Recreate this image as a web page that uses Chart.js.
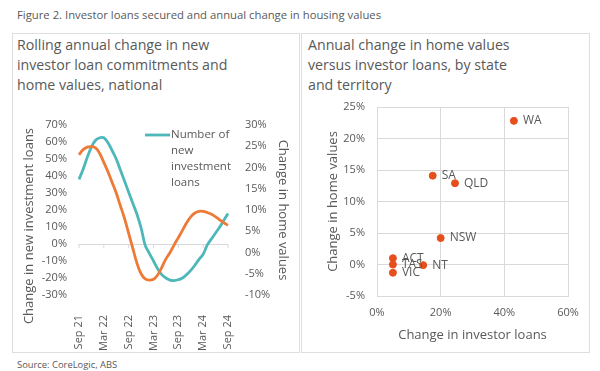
<!DOCTYPE html>
<html>
<head>
<meta charset="utf-8">
<script src="https://cdn.jsdelivr.net/npm/chart.js@4.4.1/dist/chart.umd.min.js"></script>
<style>
	body { margin: 0; background: #fff; font-family: "Open Sans", sans-serif; color: #595959; }
	#wrap { position: relative; width: 600px; height: 371px; overflow: hidden; }
	.panel { position: absolute; top: 33px; height: 320px; border: 1px solid #dedede; box-sizing: border-box; }
	.ptitle { position: absolute; top: 35px; font-size: 14.2px; line-height: 20px; color: #595959; }
	#fig { position: absolute; left: 17px; top: 7px; font-size: 11.3px; }
	#src { position: absolute; left: 17px; top: 358px; font-size: 9.4px; }
	canvas { position: absolute; }
</style>
</head>
<body>
<div id="wrap">
	<div id="fig">Figure 2. Investor loans secured and annual change in housing values</div>
	<div class="panel" style="left:12px;width:288px;"></div>
	<div class="panel" style="left:301px;width:289px;"></div>
	<div class="ptitle" style="left:17px;">Rolling annual change in new<br>investor loan commitments and<br>home values, national</div>
	<div class="ptitle" style="left:308px;">Annual change in home values<br>versus investor loans, by state<br>and territory</div>
	<canvas id="line-1" width="284" height="256" style="left:13px;top:95px;"></canvas>
	<canvas id="scatter-1" width="286" height="256" style="left:303px;top:95px;"></canvas>
	<div id="src">Source: CoreLogic, ABS</div>
</div>
<script>
const monthLabels = ["Sep 21", "Oct 21", "Nov 21", "Dec 21", "Jan 22", "Feb 22", "Mar 22", "Apr 22", "May 22", "Jun 22", "Jul 22", "Aug 22",
	"Sep 22", "Oct 22", "Nov 22", "Dec 22", "Jan 23", "Feb 23", "Mar 23", "Apr 23", "May 23", "Jun 23", "Jul 23", "Aug 23",
	"Sep 23", "Oct 23", "Nov 23", "Dec 23", "Jan 24", "Feb 24", "Mar 24", "Apr 24", "May 24", "Jun 24", "Jul 24", "Aug 24", "Sep 24"];

// left axis: number of new investment loans, % change
const investLoans = [38, 44, 51, 57, 61, 62.5, 62.5, 59.5, 55, 50, 43.5, 37,
	30.5, 24, 17.5, 9.5, -0.8, -5.5, -10, -14.5, -18, -20, -21.2, -21.5,
	-21, -20, -18, -15.5, -12.5, -9, -6, -0.5, 3, 6.5, 10, 14, 18];

// right axis: home values, % change
const homeValues = [23, 24.2, 24.8, 24.9, 24.6, 23.3, 21.2, 19, 16.5, 14, 11, 8,
	4.5, 1, -2.5, -5, -6.2, -6.5, -6.3, -5.3, -3.5, -1.5, 0, 1.8,
	3.5, 5.2, 7, 8.4, 9.3, 9.7, 9.7, 9.4, 9, 8.4, 7.7, 7, 6.4];

const states = ["WA", "SA", "QLD", "NSW", "ACT", "TAS", "NT", "VIC"];
const investorLoanChange = [43, 17.5, 24.5, 20, 5, 5, 14.5, 5];
const homeValueChange = [22.8, 14.1, 12.9, 4.2, 1, 0, -0.1, -1.3];

const TEAL = "#4db7b9";
const ORANGE = "#ee7a37";
const RED_ORANGE = "#e64f1c";
const GREY = "#595959";
const GRID = "#d9d9d9";
const FONT = "'Open Sans', sans-serif";

Chart.defaults.font.family = FONT;
Chart.defaults.color = GREY;

function fixWidth(w) {
	return (scale) => {
		scale.width = w;
		// tick padding should not push the plot area down
		scale.paddingTop = 4;
		scale.paddingBottom = 4;
	};
}
function fixHeight(h) {
	return (scale) => { scale.height = h; };
}

// legend with wrapped text, only the loans series is listed
// also the left axis title, which sits a bit lower than the plot centre
const wrappedLegend = {
	id: "wrappedLegend",
	afterDraw(chart) {
		const ctx = chart.ctx;
		const x = 132;
		const y = 40;
		ctx.save();
		ctx.strokeStyle = TEAL;
		ctx.lineWidth = 2.8;
		ctx.beginPath();
		ctx.moveTo(x, y);
		ctx.lineTo(x + 25, y);
		ctx.stroke();
		ctx.fillStyle = GREY;
		ctx.font = "11.5px " + FONT;
		ctx.textBaseline = "middle";
		["Number of", "new", "investment", "loans"].forEach((t, i) => {
			ctx.fillText(t, x + 26, y + i * 16);
		});

		ctx.translate(16, 131);
		ctx.rotate(-Math.PI / 2);
		ctx.font = "13px " + FONT;
		ctx.textAlign = "center";
		ctx.fillText("Change in new investment loans", 0, 0);
		ctx.restore();
	},
};

// small tick marks on the zero line
const zeroTicks = {
	id: "zeroTicks",
	beforeDatasetsDraw(chart) {
		const ctx = chart.ctx;
		const y0 = chart.scales.y.getPixelForValue(0);
		ctx.save();
		ctx.strokeStyle = GRID;
		ctx.lineWidth = 1;
		for (let i = 0; i < monthLabels.length; i += 6) {
			const x = chart.scales.x.getPixelForValue(i);
			ctx.beginPath();
			ctx.moveTo(x, y0);
			ctx.lineTo(x, y0 + 4);
			ctx.stroke();
		}
		ctx.restore();
	},
};

const pointLabels = {
	id: "pointLabels",
	afterDatasetsDraw(chart) {
		const ctx = chart.ctx;
		const meta = chart.getDatasetMeta(0);
		ctx.save();
		ctx.fillStyle = GREY;
		ctx.font = "12px " + FONT;
		ctx.textBaseline = "middle";
		meta.data.forEach((pt, i) => {
			ctx.fillText(states[i], pt.x + 9, pt.y);
		});
		ctx.restore();
	},
};

const config_l1 = {
	type: "line",
	data: {
		labels: monthLabels,
		datasets: [
			{
				label: "Number of new investment loans",
				data: investLoans,
				borderColor: TEAL,
				borderWidth: 2.8,
				pointRadius: 0,
				tension: 0.4,
				yAxisID: "y",
				order: 1,
			},
			{
				label: "Change in home values",
				data: homeValues,
				borderColor: ORANGE,
				borderWidth: 2.8,
				pointRadius: 0,
				tension: 0.4,
				yAxisID: "y1",
				order: 0,
			},
		],
	},
	options: {
		responsive: false,
		animation: false,
		layout: { padding: { top: 30, left: 0, right: 0, bottom: 0 } },
		plugins: { legend: { display: false }, tooltip: { enabled: false } },
		scales: {
			x: {
				grid: { display: false },
				border: { display: false },
				afterFit: fixHeight(56),
				ticks: {
					autoSkip: false,
					minRotation: 90,
					maxRotation: 90,
					padding: 12,
					font: { size: 11 },
					callback: (v, i) => (i % 6 === 0 ? monthLabels[i] : ""),
				},
			},
			y: {
				position: "left",
				min: -30,
				max: 70,
				afterFit: fixWidth(66),
				border: { display: false },
				grid: { drawTicks: false, color: (c) => (c.tick && c.tick.value === 0 ? GRID : "rgba(0,0,0,0)") },
				ticks: { stepSize: 10, autoSkip: false, padding: 12, font: { size: 11 }, callback: (v) => v + "%" },
			},
			y1: {
				position: "right",
				min: -10,
				max: 30,
				afterFit: fixWidth(69),
				border: { display: false },
				grid: { display: false, drawTicks: false },
				ticks: { stepSize: 5, autoSkip: false, padding: 17, font: { size: 11 }, callback: (v) => v + "%" },
				title: { display: true, text: "Change in home values", font: { size: 13 }, padding: { top: 6, bottom: 0 } },
			},
		},
	},
	plugins: [zeroTicks, wrappedLegend],
};

const config_s1 = {
	type: "scatter",
	data: {
		datasets: [
			{
				label: "States",
				data: investorLoanChange.map((v, i) => ({ x: v, y: homeValueChange[i] })),
				backgroundColor: RED_ORANGE,
				borderColor: RED_ORANGE,
				pointRadius: 3.5,
			},
		],
	},
	options: {
		responsive: false,
		animation: false,
		layout: { padding: { top: 12, left: 0, right: 21, bottom: 0 } },
		plugins: { legend: { display: false }, tooltip: { enabled: false } },
		scales: {
			x: {
				min: 0,
				max: 60,
				afterFit: fixHeight(55),
				border: { color: GRID },
				grid: { color: GRID, drawTicks: false },
				ticks: { stepSize: 20, padding: 10, font: { size: 11 }, callback: (v) => v + "%" },
				title: { display: true, text: "Change in investor loans", font: { size: 13 }, padding: { top: 0, bottom: 8 } },
			},
			y: {
				min: -5,
				max: 25,
				afterFit: fixWidth(74),
				border: { color: GRID },
				grid: { color: GRID, drawTicks: false },
				ticks: { stepSize: 5, autoSkip: false, padding: 12, font: { size: 11 }, callback: (v) => v + "%" },
				title: { display: true, text: "Change in home values", font: { size: 13 }, padding: { top: 22, bottom: 0 } },
			},
		},
	},
	plugins: [pointLabels],
};

new Chart(document.getElementById("line-1"), config_l1);
new Chart(document.getElementById("scatter-1"), config_s1);
</script>
</body>
</html>
